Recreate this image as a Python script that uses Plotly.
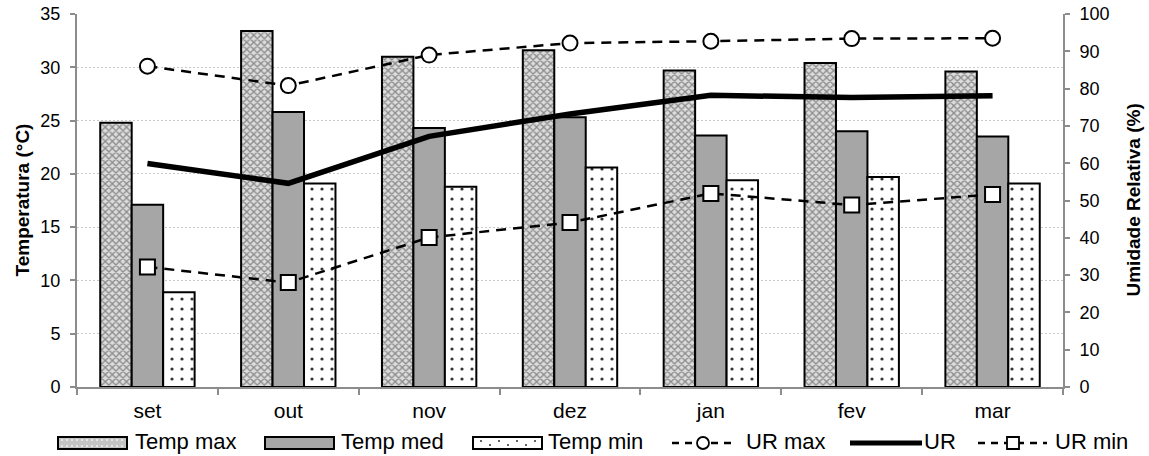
import plotly.graph_objects as go

# Monthly climate data
months = ["set", "out", "nov", "dez", "jan", "fev", "mar"]
temp_max = [24.8, 33.4, 31.0, 31.6, 29.7, 30.4, 29.6]
temp_med = [17.1, 25.8, 24.3, 25.3, 23.6, 24.0, 23.5]
temp_min = [8.9, 19.1, 18.8, 20.6, 19.4, 19.7, 19.1]
ur_max = [86.0, 80.8, 89.0, 92.2, 92.7, 93.4, 93.5]
ur_med = [59.9, 54.6, 67.2, 73.2, 78.2, 77.6, 78.1]
ur_min = [32.2, 28.0, 40.1, 44.1, 51.9, 48.8, 51.6]

FONT = "Liberation Sans"
AXIS_GREY = "#8c8c8c"
W, H = 1149, 456
ML, MR, MT, MB = 77, 86, 14, 69
PW, PH = W - ML - MR, H - MT - MB

DASH = "10px,7px"
MAX_FILL = dict(shape="x", fgcolor="#8a8a8a", bgcolor="#dcdcdc",
                size=5, solidity=0.45, fillmode="replace")
MIN_FILL = dict(shape=".", fgcolor="#333333", bgcolor="#ffffff",
                size=10, solidity=0.08, fillmode="replace")


def px(x):
    """Page pixel x -> paper x."""
    return (x - ML) / PW


def py(y):
    """Page pixel y -> paper y."""
    return (H - MB - y) / PH


fig = go.Figure()

fig.add_trace(go.Bar(
    x=months, y=temp_max, name="Temp max",
    marker=dict(color="#ffffff", line=dict(color="black", width=2), pattern=MAX_FILL),
))
fig.add_trace(go.Bar(
    x=months, y=temp_med, name="Temp med",
    marker=dict(color="#a6a6a6", line=dict(color="black", width=2)),
))
fig.add_trace(go.Bar(
    x=months, y=temp_min, name="Temp min",
    marker=dict(color="#ffffff", line=dict(color="black", width=2), pattern=MIN_FILL),
))

fig.add_trace(go.Scatter(
    x=months, y=ur_max, name="UR max", yaxis="y2", mode="lines+markers",
    line=dict(color="black", width=2.5, dash=DASH),
    marker=dict(symbol="circle", size=15, color="white",
                line=dict(color="black", width=2)),
))
fig.add_trace(go.Scatter(
    x=months, y=ur_med, name="UR", yaxis="y2", mode="lines",
    line=dict(color="black", width=5.5),
))
fig.add_trace(go.Scatter(
    x=months, y=ur_min, name="UR min", yaxis="y2", mode="lines+markers",
    line=dict(color="black", width=2.5, dash=DASH),
    marker=dict(symbol="square", size=15, color="white",
                line=dict(color="black", width=2)),
))

# ---- legend row drawn below the plot (wide swatches) ----
shapes, annots = [], []
LEG_Y = 441            # text centre line
SW_T, SW_B = 437, 449  # swatch top / bottom
SW_C = (SW_T + SW_B) / 2


def legend_text(label, x0):
    annots.append(dict(text=label, xref="paper", yref="paper", x=px(x0), y=py(LEG_Y),
                       xanchor="left", yanchor="middle", showarrow=False,
                       borderpad=0,
                       font=dict(family=FONT, size=22, color="black")))


def swatch_box(x0, x1, fill):
    shapes.append(dict(type="rect", xref="paper", yref="paper",
                       x0=px(x0), x1=px(x1), y0=py(SW_B), y1=py(SW_T),
                       fillcolor=fill, line=dict(color="black", width=2)))


# Temp max: grey cross-hatch look
swatch_box(58, 127, "#c4c4c4")
for cx in range(62, 126, 5):
    for cy in (SW_C - 3, SW_C + 3):
        shapes.append(dict(type="circle", xref="paper", yref="paper",
                           x0=px(cx - 1), x1=px(cx + 1), y0=py(cy + 1), y1=py(cy - 1),
                           fillcolor="#f0f0f0", line=dict(width=0)))
legend_text("Temp max", 134)

# Temp med: solid grey
swatch_box(265, 334, "#a6a6a6")
legend_text("Temp med", 340)

# Temp min: white with dots
swatch_box(473, 542, "#ffffff")
for i, cx in enumerate(range(481, 540, 9)):
    cy = SW_C - 2 if i % 2 == 0 else SW_C + 2
    shapes.append(dict(type="circle", xref="paper", yref="paper",
                       x0=px(cx - 1), x1=px(cx + 1), y0=py(cy + 1), y1=py(cy - 1),
                       fillcolor="#333333", line=dict(width=0)))
legend_text("Temp min", 547)


def legend_line(x0, x1, width, dash):
    shapes.append(dict(type="line", xref="paper", yref="paper",
                       x0=px(x0), x1=px(x1), y0=py(SW_C), y1=py(SW_C),
                       line=dict(color="black", width=width, dash=dash)))


# UR max: dashed line with open circle
legend_line(672, 735, 2.5, "7px,6px")
shapes.append(dict(type="circle", xref="paper", yref="paper",
                   x0=px(697), x1=px(709), y0=py(SW_B), y1=py(SW_T),
                   fillcolor="white", line=dict(color="black", width=1.8)))
legend_text("UR max", 745)

# UR: thick solid line
legend_line(850, 922, 5, "solid")
legend_text("UR", 923)

# UR min: dashed line with open square
legend_line(978, 1047, 2.5, "7px,6px")
shapes.append(dict(type="rect", xref="paper", yref="paper",
                   x0=px(1007), x1=px(1019), y0=py(SW_B), y1=py(SW_T),
                   fillcolor="white", line=dict(color="black", width=1.8)))
legend_text("UR min", 1054)

# Axis titles
annots.append(dict(text="<b>Temperatura (°C)</b>", xref="paper", yref="paper",
                   x=px(22), y=0.5, xanchor="center", yanchor="middle",
                   textangle=-90, showarrow=False,
                   font=dict(family=FONT, size=19, color="black")))
annots.append(dict(text="<b>Umidade Relativa (%)</b>", xref="paper", yref="paper",
                   x=px(1133), y=0.5, xanchor="center", yanchor="middle",
                   textangle=-90, showarrow=False,
                   font=dict(family=FONT, size=19, color="black")))

fig.update_layout(
    width=W, height=H,
    margin=dict(l=ML, r=MR, t=MT, b=MB, autoexpand=False),
    paper_bgcolor="white", plot_bgcolor="white",
    font=dict(family=FONT, size=18, color="black"),
    barmode="group", bargap=0.33, bargroupgap=0,
    showlegend=False,
    shapes=shapes, annotations=annots,
    xaxis=dict(
        showline=True, linecolor=AXIS_GREY, linewidth=2, automargin=False,
        ticks="outside", tickson="boundaries", ticklen=6, tickcolor=AXIS_GREY,
        tickwidth=2, showgrid=False, tickfont=dict(size=21), ticklabelstandoff=4,
    ),
    yaxis=dict(
        range=[0, 35], dtick=5, showline=True, linecolor=AXIS_GREY, linewidth=2,
        automargin=False,
        ticks="outside", ticklen=5, tickcolor=AXIS_GREY, tickwidth=2,
        showgrid=True, gridcolor="#c8c8c8", griddash="2px,2px", gridwidth=1,
        zeroline=False, tickfont=dict(size=18), ticklabelstandoff=6,
    ),
    yaxis2=dict(
        range=[0, 100], dtick=10, overlaying="y", side="right",
        showline=True, linecolor=AXIS_GREY, linewidth=2, automargin=False,
        ticks="outside", ticklen=5, tickcolor=AXIS_GREY, tickwidth=2,
        showgrid=False, zeroline=False, tickfont=dict(size=18), ticklabelstandoff=6,
    ),
)

fig.write_html("out.html")
